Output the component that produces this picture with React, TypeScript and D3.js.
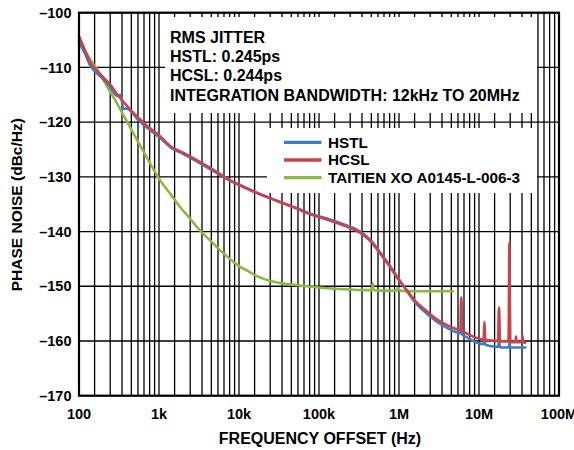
import React from "react";
import * as d3 from "d3";

// Phase noise (dBc/Hz) versus frequency offset (Hz)
const hstlFreq = [100, 120, 137, 166, 200, 244, 300, 330, 360, 395, 550, 750, 1000, 1420, 2000, 3000, 5000, 7720, 10000, 14000, 20100, 30000, 52600, 80000, 137000, 222000, 300000, 358000, 450000, 579000, 750000, 935000, 1250000, 1600000, 2000000, 3000000, 4000000, 5000000, 5900000, 6000000, 6100000, 7000000, 8500000, 10000000, 11400000, 11700000, 12000000, 14000000, 17300000, 17800000, 18300000, 20000000, 23500000, 24000000, 24500000, 28000000, 38000000];
const hstlVals = [-105.4, -107.6, -109.6, -111.0, -112.1, -113.5, -115.2, -115.0, -117.6, -117.5, -119.6, -121.3, -122.7, -124.7, -125.8, -127.2, -129.1, -130.7, -131.5, -132.5, -133.4, -134.4, -135.7, -136.8, -137.8, -138.9, -139.7, -140.4, -141.7, -143.8, -146.0, -148.1, -150.8, -153.0, -154.4, -156.5, -157.6, -158.3, -158.6, -152.6, -158.7, -159.3, -160.0, -160.4, -160.6, -158.5, -160.7, -160.9, -161.1, -160.0, -161.1, -161.2, -161.2, -160.4, -161.2, -161.2, -161.2];

const hcslFreq = [100, 120, 137, 166, 200, 244, 300, 395, 550, 750, 1000, 1420, 2000, 3000, 5000, 7720, 10000, 14000, 20100, 30000, 52600, 80000, 137000, 222000, 300000, 358000, 450000, 579000, 750000, 935000, 1250000, 1600000, 2000000, 3000000, 4000000, 5000000, 5900000, 6000000, 6100000, 7000000, 8500000, 10000000, 11400000, 11700000, 12000000, 14000000, 17300000, 17800000, 18300000, 20000000, 23400000, 24000000, 24600000, 26000000, 28500000, 29000000, 29500000, 32000000, 34500000, 35000000, 35500000, 38000000];
const hcslVals = [-104.3, -107.0, -109.0, -110.5, -111.8, -113.1, -114.9, -117.0, -119.2, -121.0, -122.4, -124.5, -125.6, -127.0, -128.9, -130.6, -131.4, -132.4, -133.4, -134.4, -135.8, -136.9, -138.0, -139.1, -139.9, -140.6, -141.9, -144.0, -146.2, -148.3, -150.7, -152.7, -154.0, -156.1, -157.1, -157.7, -158.0, -152.0, -158.0, -158.6, -159.2, -159.6, -159.8, -156.5, -159.8, -159.9, -160.0, -153.9, -160.0, -160.1, -160.1, -142.1, -160.1, -160.2, -160.2, -159.2, -160.2, -160.2, -160.2, -159.0, -160.2, -160.3];

const xoFreq = [100, 125, 150, 166, 200, 244, 300, 358, 395, 525, 636, 800, 1030, 1400, 1830, 2500, 3200, 4500, 5800, 7720, 10200, 12500, 16000, 20000, 30000, 52600, 80000, 137000, 250000, 400000, 460000, 470000, 480000, 700000, 935000, 980000, 1030000, 1500000, 2500000, 4700000];
const xoVals = [-105.2, -107.5, -109.3, -110.2, -112.2, -114.4, -116.6, -118.7, -119.8, -123.1, -125.3, -127.9, -130.6, -133.2, -135.5, -137.8, -139.7, -141.8, -143.4, -145.0, -146.4, -147.1, -148.0, -148.6, -149.3, -149.8, -150.1, -150.4, -150.6, -150.7, -150.7, -149.4, -150.7, -150.8, -150.8, -150.3, -150.8, -150.9, -150.9, -150.9];

const seriesNames = ["HSTL", "HCSL", "TAITIEN XO A0145-L-006-3"];
const seriesColors = ["#3f7cc4", "#c9434a", "#8cb844"];

const xTickValues = [1e2, 1e3, 1e4, 1e5, 1e6, 1e7, 1e8];
const xTickLabels = ["100", "1k", "10k", "100k", "1M", "10M", "100M"];
const yTickValues = [-100, -110, -120, -130, -140, -150, -160, -170];

const infoLines = [
  "RMS JITTER",
  "HSTL: 0.245ps",
  "HCSL: 0.244ps",
  "INTEGRATION BANDWIDTH: 12kHz TO 20MHz",
];

// Minor grid offsets within each decade, as fractions of a decade
const minorSteps = [0.195, 0.39, 0.5375, 0.654, 0.7375, 0.8125, 0.883, 0.945];

const W = 574;
const H = 450;
const left = 79;
const right = 559;
const top = 12.7;
const bottom = 395.7;
const FONT = "'Liberation Sans', Arial, Helvetica, sans-serif";

export default function App() {
  const x = d3.scaleLog().domain([1e2, 1e8]).range([left, right]);
  const y = d3.scaleLinear().domain([-170, -100]).range([bottom, top]);

  const gridFreqs: number[] = [];
  for (let d = 2; d < 8; d++) {
    gridFreqs.push(Math.pow(10, d));
    minorSteps.forEach((f) => gridFreqs.push(Math.pow(10, d + f)));
  }

  const line = d3
    .line<[number, number]>()
    .x((p) => x(p[0]))
    .y((p) => y(p[1]))
    .curve(d3.curveMonotoneX);

  const series = [
    { f: hstlFreq, v: hstlVals },
    { f: hcslFreq, v: hcslVals },
    { f: xoFreq, v: xoVals },
  ];
  const paths = series.map((s) => line(s.f.map((f, i) => [f, s.v[i]] as [number, number])) || "");

  const legendY = [142.3, 160, 177.7];

  return (
    <svg
      width={W}
      height={H}
      style={{ position: "absolute", left: 0, top: 0, background: "#fff" }}
      fontFamily={FONT}
      fontWeight="bold"
    >
      <rect x={0} y={0} width={W} height={H} fill="#fff" />
      {/* grid */}
      <g stroke="#000" strokeWidth={1.3}>
        {gridFreqs.map((f, i) => (
          <line key={"v" + i} x1={x(f)} x2={x(f)} y1={top} y2={bottom} />
        ))}
        {yTickValues.map((v) => (
          <line key={"h" + v} x1={left} x2={right} y1={y(v)} y2={y(v)} />
        ))}
      </g>
      {/* annotation and legend panels */}
      <rect x={165} y={17} width={372} height={96} fill="#fff" />
      <rect x={267} y={128} width={270} height={65} fill="#fff" />
      {/* curves */}
      <g fill="none" strokeWidth={2.6} strokeLinejoin="round" strokeLinecap="round">
        <path d={paths[2]} stroke={seriesColors[2]} />
        <path d={paths[0]} stroke={seriesColors[0]} />
        <path d={paths[1]} stroke={seriesColors[1]} />
      </g>
      {/* frame */}
      <rect x={left} y={top} width={right - left} height={bottom - top} fill="none" stroke="#000" strokeWidth={2.2} />
      {/* info text */}
      <g fontSize={16} fill="#000">
        {infoLines.map((t, i) => (
          <text key={t} x={170} y={42.7 + i * 19.3}>
            {t}
          </text>
        ))}
      </g>
      {/* legend */}
      <g fontSize={15.3}>
        {seriesNames.map((n, i) => (
          <g key={n}>
            <line x1={284} x2={321.5} y1={legendY[i]} y2={legendY[i]} stroke={seriesColors[i]} strokeWidth={3.3} />
            <text x={328} y={legendY[i] + 5.2}>
              {n}
            </text>
          </g>
        ))}
      </g>
      {/* axes labels */}
      <g fontSize={14.5}>
        {xTickValues.map((v, i) => (
          <text key={v} x={x(v)} y={419} textAnchor="middle">
            {xTickLabels[i]}
          </text>
        ))}
        {yTickValues.map((v) => (
          <text key={v} x={71.5} y={y(v) + 5.2} textAnchor="end">
            {"\u2013" + Math.abs(v)}
          </text>
        ))}
      </g>
      <text x={320} y={444} fontSize={16} textAnchor="middle">
        FREQUENCY OFFSET (Hz)
      </text>
      <text transform="translate(21.5,204.7) rotate(-90)" fontSize={15.5} textAnchor="middle">
        PHASE NOISE (dBc/Hz)
      </text>
    </svg>
  );
}
